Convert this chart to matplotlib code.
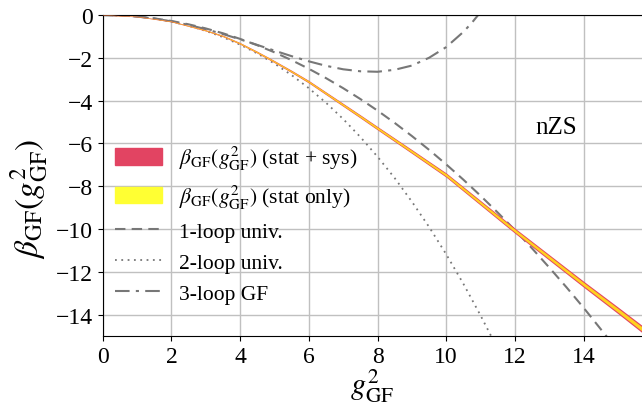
import numpy as np
import matplotlib
matplotlib.use("Agg")
import matplotlib.pyplot as plt
from matplotlib.patches import Patch
from matplotlib.lines import Line2D

plt.rcParams['font.family'] = ['Liberation Serif', 'DejaVu Serif']
plt.rcParams['mathtext.fontset'] = 'stix'

# non-perturbative beta function (central value + half widths)
g2_data = [0, 1, 2, 3, 3.5, 4, 4.5, 5, 5.5, 6, 6.5, 7, 7.5, 8, 9, 10, 11, 12,
           13, 14, 15, 15.7]
beta_data = [0, -0.07, -0.30, -0.72, -0.98, -1.33, -1.74, -2.18, -2.64, -3.12,
             -3.66, -4.20, -4.74, -5.29, -6.38, -7.48, -8.78, -10.08, -11.33,
             -12.58, -13.80, -14.67]
err_sys = [0.01, 0.015, 0.02, 0.03, 0.035, 0.04, 0.045, 0.05, 0.055, 0.06,
           0.065, 0.07, 0.075, 0.08, 0.09, 0.10, 0.11, 0.12, 0.13, 0.14,
           0.155, 0.17]
err_stat = [0.005, 0.008, 0.012, 0.018, 0.02, 0.025, 0.028, 0.03, 0.033, 0.036,
            0.04, 0.043, 0.046, 0.05, 0.055, 0.06, 0.065, 0.07, 0.075, 0.08,
            0.09, 0.10]

# perturbative curves
g2_1l = [0, 0.5, 1, 1.5, 2, 2.5, 3, 3.5, 4, 4.5, 5, 5.5, 6, 6.5, 7, 7.5, 8,
         8.5, 9, 9.5, 10, 10.5, 11, 11.5, 12, 12.5, 13, 13.5, 14, 14.5, 14.7]
beta_1loop = [0, -0.018, -0.070, -0.157, -0.279, -0.436, -0.628, -0.855,
              -1.117, -1.413, -1.745, -2.111, -2.513, -2.949, -3.420, -3.926,
              -4.467, -5.043, -5.654, -6.299, -6.98, -7.695, -8.446, -9.231,
              -10.05, -10.906, -11.80, -12.72, -13.68, -14.68, -15.08]

g2_2l = [0, 0.5, 1, 1.5, 2, 2.5, 3, 3.5, 4, 4.5, 5, 5.5, 6, 6.5, 7, 7.5, 8,
         8.5, 9, 9.5, 10, 10.5, 11, 11.4]
beta_2loop = [0, -0.018, -0.074, -0.171, -0.313, -0.502, -0.741, -1.035,
              -1.386, -1.796, -2.27, -2.81, -3.42, -4.10, -4.86, -5.70, -6.62,
              -7.62, -8.72, -9.90, -11.18, -12.56, -14.04, -15.29]

g2_3l = [0, 0.5, 1, 1.5, 2, 2.5, 3, 3.5, 4, 4.5, 5, 5.5, 6, 6.5, 7, 7.5, 8,
         8.5, 9, 9.5, 10, 10.5, 10.75, 11]
beta_3loop = [0, -0.018, -0.073, -0.166, -0.297, -0.464, -0.663, -0.890,
              -1.138, -1.399, -1.665, -1.924, -2.165, -2.374, -2.537, -2.63,
              -2.653, -2.56, -2.364, -2.00, -1.50, -0.79, -0.357, 0.137]

g2 = np.array(g2_data)
beta = np.array(beta_data)
es = np.array(err_sys)
et = np.array(err_stat)

fig = plt.figure(figsize=(6.42, 4.10), dpi=100)
ax = fig.add_axes([0.160, 0.178, 0.840, 0.783])

red = '#e24462'
yellow = '#ffff33'
gray = '#777777'

ax.fill_between(g2, beta - es, beta + es, color=red, lw=0, zorder=3)
ax.fill_between(g2, beta - et, beta + et, color='#ffd21e', lw=0, zorder=4)

ax.plot(g2_1l, beta_1loop, ls=(0, (5, 3)), color=gray, lw=1.5, zorder=2)
ax.plot(g2_2l, beta_2loop, ls=(0, (1, 2.5)), color=gray, lw=1.3, zorder=2)
ax.plot(g2_3l, beta_3loop, ls=(0, (7, 3, 1.5, 3)), color=gray, lw=1.5, zorder=2)

ax.set_xlim(0, 15.7)
ax.set_ylim(-15, 0)
ax.set_xticks(range(0, 16, 2))
ax.set_yticks(range(-14, 1, 2))
ax.grid(True, color='#c0c0c0', lw=1)
ax.set_axisbelow(True)
ax.tick_params(labelsize=17)
ax.spines['right'].set_visible(False)

ax.set_xlabel(r'$g^2_{\mathrm{GF}}$', fontsize=22, labelpad=0)
ax.set_ylabel(r'$\beta_{\mathrm{GF}}(g^2_{\mathrm{GF}})$', fontsize=24)
ax.yaxis.set_label_coords(-0.098, 0.43)

ax.text(13.2, -5.25, 'nZS', fontsize=18, ha='center', va='center')

handles = [
    Patch(color=red),
    Patch(color=yellow),
    Line2D([], [], ls=(0, (5, 3)), color=gray, lw=1.5),
    Line2D([], [], ls=(0, (1, 2.5)), color=gray, lw=1.3),
    Line2D([], [], ls=(0, (7, 3, 1.5, 3)), color=gray, lw=1.5),
]
labels = [
    r'$\beta_{\mathrm{GF}}(g^2_{\mathrm{GF}})$ (stat + sys)',
    r'$\beta_{\mathrm{GF}}(g^2_{\mathrm{GF}})$ (stat only)',
    '1-loop univ.',
    '2-loop univ.',
    '3-loop GF',
]
ax.legend(handles, labels, loc='upper left', bbox_to_anchor=(0.0, 0.635),
          frameon=False, fontsize=15.5, handlelength=2.2, handleheight=0.8,
          labelspacing=0.48, borderaxespad=0.15)

fig.savefig('out.png', dpi=100)
